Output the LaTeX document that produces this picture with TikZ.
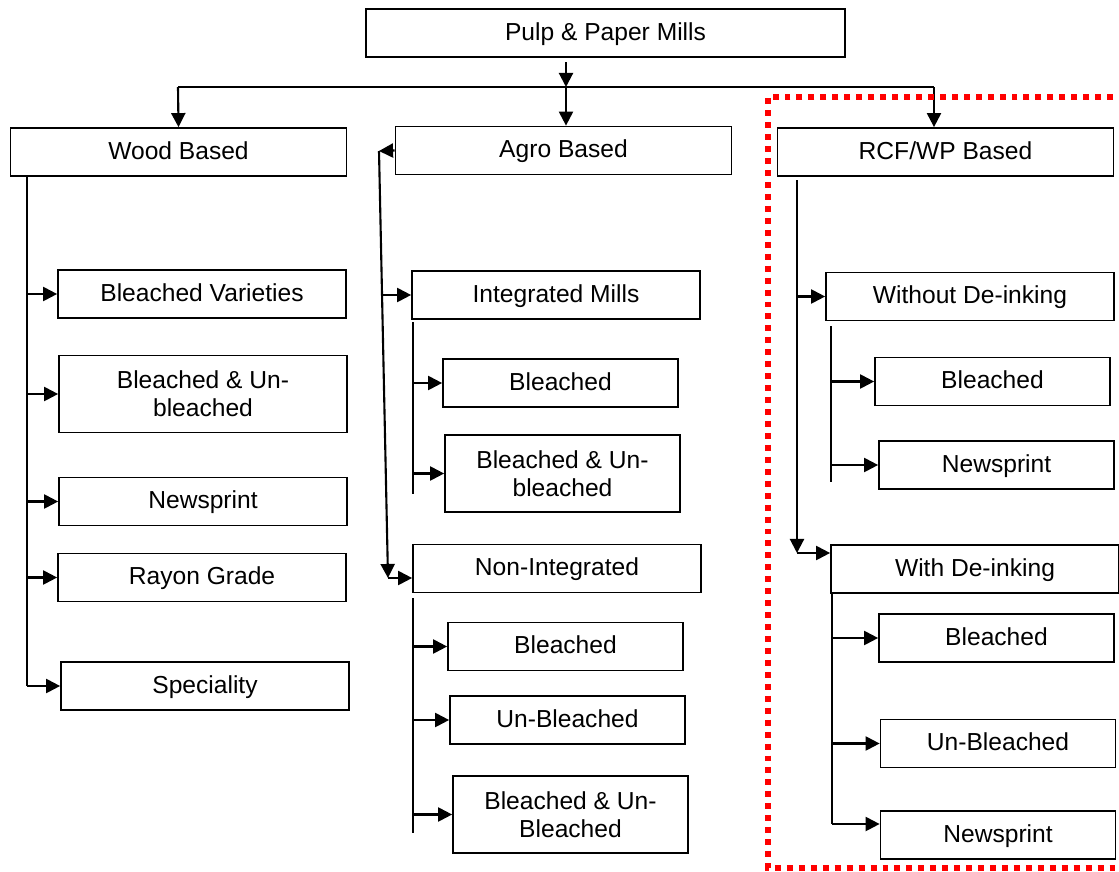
\documentclass[tikz,border=0pt]{standalone}
\usepackage{fontspec}
\setmainfont{Liberation Sans}
\usetikzlibrary{arrows.meta,positioning}

\tikzset{
  box/.style={draw, line width=1pt, align=center, inner sep=2pt,
    minimum height=0.96cm, text height=11pt, text depth=3pt,
    font=\fontsize{14}{16}\selectfont},
  mainbox/.style={box, minimum width=9.58cm},
  basebox/.style={box, minimum width=6.72cm},
  subbox/.style={box, minimum width=5.76cm},
  leafbox/.style={box, minimum width=4.7cm},
  tall/.style={minimum height=1.54cm, text height=, text depth=},
  arr/.style={-{Triangle[length=8pt,width=8pt]}, line width=1.2pt},
  spine/.style={line width=1.2pt},
  zone/.style={red, line width=3.4pt, dash pattern=on 3.4pt off 3.4pt},
}

\begin{document}
\begin{tikzpicture}[x=0.02cm,y=-0.02cm]
\useasboundingbox (0,0) rectangle (1119,872);

%top and first level
\node[mainbox] (mills) at (605.5,33) {Pulp \& Paper Mills};
\node[basebox] (wood) at (178.5,152) {Wood Based};
\node[basebox] (agro) at (563.5,150.5) {Agro Based};
\node[basebox] (rcf) at (945.5,152) {RCF/WP Based};

%wood based
\node[subbox] (bv) at (202,294) {Bleached Varieties};
\node[subbox, tall] (bub) at (203,394) {Bleached \& Un-\\bleached};
\node[subbox] (wnews) at (203,501.5) {Newsprint};
\node[subbox] (rayon) at (202,577.5) {Rayon Grade};
\node[subbox] (spec) at (205,686) {Speciality};

%agro based
\node[subbox] (integ) at (556,295) {Integrated Mills};
\node[leafbox] (ib) at (560.5,383) {Bleached};
\node[leafbox, tall] (ibub) at (562.5,473.5) {Bleached \& Un-\\bleached};
\node[subbox] (nonint) at (557,568.5) {Non-Integrated};
\node[leafbox] (nb) at (565.5,646.5) {Bleached};
\node[leafbox] (nub) at (567.5,720) {Un-Bleached};
\node[leafbox, tall] (nbub) at (570.5,814.5) {Bleached \& Un-\\Bleached};

%rcf/wp based
\node[subbox] (without) at (970,296.5) {Without De-inking};
\node[leafbox] (wob) at (992.5,381.5) {Bleached};
\node[leafbox] (won) at (996.5,465) {Newsprint};
\node[subbox] (with) at (975,569) {With De-inking};
\node[leafbox] (wb) at (996.5,638) {Bleached};
\node[leafbox] (wub) at (998,743.5) {Un-Bleached};
\node[leafbox] (wn) at (998,835) {Newsprint};

%top connectors
\coordinate (bus) at (566,87);
\coordinate (busl) at (178,87);
\coordinate (busr) at (934,87);
\draw[arr] (566,62) -- (bus);
\draw[spine] (busl) -- (busr);
\draw[arr] (busl) -- (wood.north);
\draw[arr] (bus) -- (bus |- agro.north);
\draw[arr] (busr) -- (busr |- rcf.north);

%wood spine
\coordinate (wtop) at (27,176);
\coordinate (wbot) at (27,686);
\draw[spine] (wtop) -- (wbot);
\foreach \n in {bv,bub,wnews,rayon,spec}
  \draw[arr] (wtop |- \n.west) -- (\n.west);

%agro spine
\coordinate (atop) at (379,151);
\coordinate (abot) at (388,578);
\coordinate (amid) at (382,295);
\draw[arr] (agro.west) -- (atop);
\draw[arr] (atop) -- (abot);
\draw[arr] (abot) -- (abot -| nonint.west);
\draw[arr] (amid) -- (integ.west);
\coordinate (itop) at (413,322);
\coordinate (ibot) at (413,494);
\draw[spine] (itop) -- (ibot);
\foreach \n in {ib,ibub}
  \draw[arr] (itop |- \n.west) -- (\n.west);
\coordinate (ntop) at (413,598);
\coordinate (nbot) at (413,833);
\draw[spine] (ntop) -- (nbot);
\foreach \n in {nb,nub,nbub}
  \draw[arr] (ntop |- \n.west) -- (\n.west);

%rcf spine
\coordinate (rtop) at (797,180);
\coordinate (rbot) at (797,553);
\draw[arr] (rtop) -- (rbot);
\draw[arr] (rbot) -- (rbot -| with.west);
\draw[arr] (rtop |- without.west) -- (without.west);
\coordinate (otop) at (831,326);
\coordinate (obot) at (831,482);
\draw[spine] (otop) -- (obot);
\foreach \n in {wob,won}
  \draw[arr] (otop |- \n.west) -- (\n.west);
\coordinate (dtop) at (832,594);
\coordinate (dbot) at (832,824);
\draw[spine] (dtop) -- (dbot);
\foreach \n in {wb,wub}
  \draw[arr] (dtop |- \n.west) -- (\n.west);
\draw[arr] (dbot) -- (dbot -| wn.west);

%dotted frame
\draw[zone] (1125,97) -- (768,97) -- (768,868) -- (1125,868);
\end{tikzpicture}
\end{document}
